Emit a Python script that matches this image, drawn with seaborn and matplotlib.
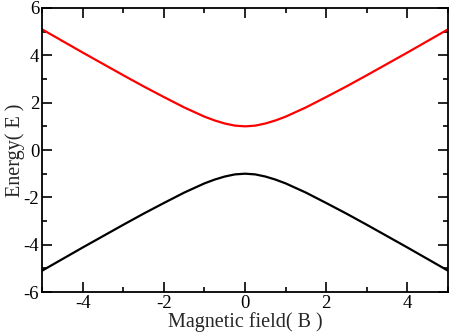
import numpy as np
import pandas as pd
import matplotlib
matplotlib.use('Agg')
import matplotlib.pyplot as plt
import seaborn as sns
from matplotlib.ticker import MultipleLocator

# Values (upper branch; lower branch is its mirror)
field = [-5, -4.5, -4, -3.5, -3, -2.5, -2, -1.5, -1, -0.75, -0.5, -0.25, 0,
         0.25, 0.5, 0.75, 1, 1.5, 2, 2.5, 3, 3.5, 4, 4.5, 5]
upper = [5.10, 4.61, 4.12, 3.64, 3.16, 2.69, 2.24, 1.80, 1.41, 1.25, 1.12, 1.03, 1.00,
         1.03, 1.12, 1.25, 1.41, 1.80, 2.24, 2.69, 3.16, 3.64, 4.12, 4.61, 5.10]
lower = [-5.10, -4.61, -4.12, -3.64, -3.16, -2.69, -2.24, -1.80, -1.41, -1.25, -1.12, -1.03, -1.00,
         -1.03, -1.12, -1.25, -1.41, -1.80, -2.24, -2.69, -3.16, -3.64, -4.12, -4.61, -5.10]

df = pd.DataFrame({'B': field + field,
                   'E': lower + upper,
                   'band': ['lower'] * len(field) + ['upper'] * len(field)})

sns.set_style('ticks')
plt.rcParams['font.family'] = ['Liberation Serif', 'DejaVu Serif']
plt.rcParams['axes.unicode_minus'] = False

fig = plt.figure(figsize=(4.54, 3.33), dpi=100)
ax = fig.add_axes([0.0925, 0.123, 0.8945, 0.853])

sns.lineplot(data=df, x='B', y='E', hue='band', palette={'lower': 'black', 'upper': '#ff0000'},
             linewidth=1.6, legend=False, ax=ax)

ax.set_xlim(-5, 5)
ax.set_ylim(-6, 6)
ax.xaxis.set_major_locator(MultipleLocator(2))
ax.xaxis.set_minor_locator(MultipleLocator(1))
ax.yaxis.set_major_locator(MultipleLocator(2))
ax.yaxis.set_minor_locator(MultipleLocator(1))
ax.tick_params(which='both', direction='in', top=True, right=True, width=1.2,
               labelsize=13.5, colors='black')
ax.tick_params(which='major', length=7, pad=2)
ax.tick_params(which='minor', length=3.5)
for s in ax.spines.values():
    s.set_linewidth(1.3)
    s.set_color('black')

ax.set_xlabel('Magnetic field( B )', fontsize=14.5, labelpad=0)
ax.set_ylabel('Energy( E )', fontsize=14.5, labelpad=-1)

fig.savefig('out.png', dpi=100)
